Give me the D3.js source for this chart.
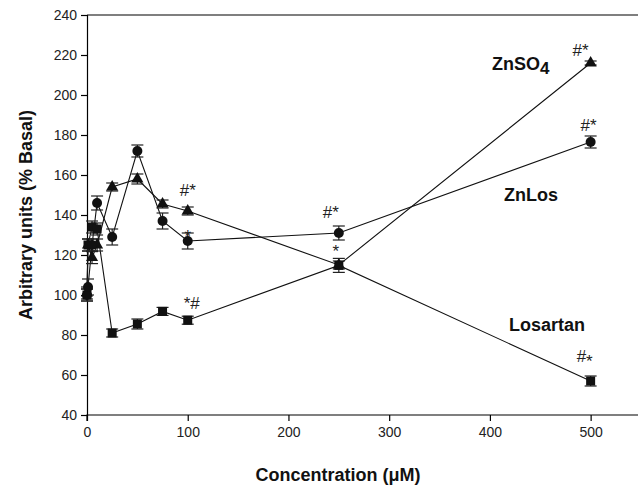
<!DOCTYPE html>
<html>
<head>
<meta charset="utf-8">
<script src="https://cdn.jsdelivr.net/npm/d3@7"></script>
<style>
  body { margin: 0; background: #fff; }
  svg text { font-family: "Liberation Sans", Arial, sans-serif; }
</style>
</head>
<body>
<div id="chart"></div>
<script>
// Values
const concentrations = [0, 1, 5, 10, 25, 50, 75, 100, 250, 500];
const znlos       = [100, 104, 125, 146, 129, 172, 137, 127, 131, 176.5];
const znlosErr    = [3, 4, 3, 3.5, 4, 3, 4, 4, 3.5, 3];
const znso4       = [101, 125, 118.7, 125, 154, 158, 145.5, 142, 115, 216];
const znso4Err    = [3, 3, 3, 3, 2, 2.5, 2, 2, 2, 1];
const losartan    = [100, 125, 134, 133, 81, 85.5, 91.8, 87.4, 114.8, 57];
const losartanErr = [3, 3, 3, 3, 2, 2.5, 2, 2, 3.5, 2.5];

const xTicks = [0, 100, 200, 300, 400, 500];
const yTicks = [40, 60, 80, 100, 120, 140, 160, 180, 200, 220, 240];

// significance marks: text, series, concentration
const marks = [
  ["#*", "znso4", 100],
  ["*", "znlos", 100],
  ["*#", "losartan", 100],
  ["#*", "znlos", 250],
  ["*", "losartan", 250],
  ["#*", "znso4", 500],
  ["#*", "znlos", 500],
  ["#", "losartan", 500]
];

const width = 638, height = 490;
const margin = { top: 15, right: 0, bottom: 75, left: 87 };

const svg = d3.select("#chart")
  .append("svg")
  .attr("width", width)
  .attr("height", height)
  .attr("font-family", "Liberation Sans, Arial, sans-serif");

const x = d3.scaleLinear().domain([0, 550]).range([margin.left, margin.left + 554]);
const y = d3.scaleLinear().domain([40, 240]).range([height - margin.bottom, margin.top]);

const series = {
  znlos: concentrations.map((c, i) => ({ c, v: znlos[i], e: znlosErr[i] })),
  znso4: concentrations.map((c, i) => ({ c, v: znso4[i], e: znso4Err[i] })),
  losartan: concentrations.map((c, i) => ({ c, v: losartan[i], e: losartanErr[i] }))
};

// top frame line
svg.append("line")
  .attr("x1", x(0)).attr("x2", width)
  .attr("y1", y(240)).attr("y2", y(240))
  .attr("stroke", "#000").attr("stroke-width", 1.2);

// axes
const xAxis = svg.append("g")
  .attr("transform", `translate(0,${y(40)})`)
  .call(d3.axisBottom(x).tickValues(xTicks).tickSize(6).tickPadding(6).tickFormat(d3.format("d")));
const yAxis = svg.append("g")
  .attr("transform", `translate(${x(0)},0)`)
  .call(d3.axisLeft(y).tickValues(yTicks).tickSize(6).tickPadding(4));

[xAxis, yAxis].forEach(g => {
  g.select(".domain").attr("stroke", "#000").attr("stroke-width", 1.2);
  g.selectAll(".tick line").attr("stroke", "#000").attr("stroke-width", 1.2);
  g.selectAll("text").attr("font-size", 14).attr("fill", "#222")
    .attr("font-family", "Liberation Sans, Arial, sans-serif");
});
xAxis.select(".domain").attr("d", `M${x(0)},6V0H${width}`);

// lines
const line = d3.line().x(d => x(d.c)).y(d => y(d.v));
Object.values(series).forEach(data => {
  svg.append("path")
    .datum(data)
    .attr("fill", "none")
    .attr("stroke", "#111")
    .attr("stroke-width", 1.1)
    .attr("d", line);
});

// error bars
Object.values(series).forEach(data => {
  const g = svg.append("g").attr("stroke", "#222").attr("stroke-width", 1.2);
  data.forEach(d => {
    const cx = x(d.c), y1 = y(d.v + d.e), y2 = y(d.v - d.e);
    g.append("line").attr("x1", cx).attr("x2", cx).attr("y1", y1).attr("y2", y2);
    g.append("line").attr("x1", cx - 6).attr("x2", cx + 6).attr("y1", y1).attr("y2", y1);
    g.append("line").attr("x1", cx - 6).attr("x2", cx + 6).attr("y1", y2).attr("y2", y2);
  });
});

// markers
svg.append("g").selectAll("rect")
  .data(series.losartan).join("rect")
  .attr("x", d => x(d.c) - 4.5).attr("y", d => y(d.v) - 4.5)
  .attr("width", 9).attr("height", 9).attr("fill", "#111");

svg.append("g").selectAll("path")
  .data(series.znso4).join("path")
  .attr("transform", d => `translate(${x(d.c)},${y(d.v)})`)
  .attr("d", d3.symbol(d3.symbolTriangle, 64))
  .attr("fill", "#111");

svg.append("g").selectAll("circle")
  .data(series.znlos).join("circle")
  .attr("cx", d => x(d.c)).attr("cy", d => y(d.v))
  .attr("r", 5).attr("fill", "#111");

// significance marks
const markOffset = {
  "znso4-100": [0, -15], "znlos-100": [0, 1], "losartan-100": [4, -11],
  "znlos-250": [-8, -15], "losartan-250": [-3, -8], "znso4-500": [-10, -7],
  "znlos-500": [-2, -11], "losartan-500": [-8, -19]
};
marks.forEach(([t, s, c]) => {
  const d = series[s].find(p => p.c === c);
  const [dx, dy] = markOffset[`${s}-${c}`];
  const txt = svg.append("text")
    .attr("x", x(d.c) + dx).attr("y", y(d.v) + dy)
    .attr("text-anchor", "middle")
    .attr("font-size", 17).attr("fill", "#222")
    .text(t);
  if (s === "losartan" && c === 500) {
    txt.attr("text-anchor", "start").attr("x", x(d.c) + dx - 6);
    txt.append("tspan").attr("dy", 5).text("*");
  }
});

// series labels
const lab = svg.append("g").attr("font-size", 18).attr("font-weight", "bold").attr("fill", "#111");
const zn = lab.append("text").attr("x", 492).attr("y", 70).text("ZnSO");
zn.append("tspan").attr("dy", 4).attr("font-size", 17).text("4");
lab.append("text").attr("x", 504).attr("y", 201).text("ZnLos");
lab.append("text").attr("x", 509).attr("y", 331).text("Losartan");

// axis titles
svg.append("text")
  .attr("x", 338).attr("y", 481)
  .attr("text-anchor", "middle")
  .attr("font-size", 18).attr("font-weight", "bold").attr("fill", "#111")
  .text("Concentration (\u03bcM)");

svg.append("text")
  .attr("transform", `translate(32,${y(140)}) rotate(-90)`)
  .attr("text-anchor", "middle")
  .attr("font-size", 18).attr("font-weight", "bold").attr("fill", "#111")
  .text("Arbitrary units (% Basal)");
</script>
</body>
</html>
